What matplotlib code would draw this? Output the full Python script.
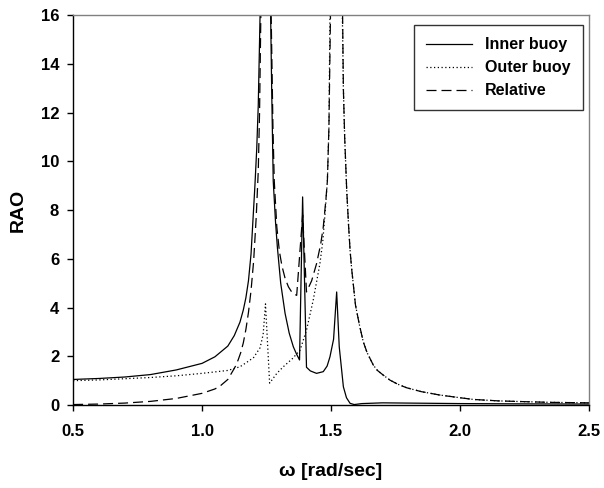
import numpy as np
import matplotlib
matplotlib.use("Agg")
import matplotlib.pyplot as plt

plt.rcParams['font.family'] = ['Liberation Sans', 'DejaVu Sans']
plt.rcParams['font.weight'] = 'bold'

# inner buoy (solid)
w_inner = [0.5, 0.6, 0.7, 0.8, 0.9, 1.0, 1.05, 1.1, 1.125, 1.147, 1.16, 1.17, 1.18,
           1.19, 1.205, 1.212, 1.218, 1.225, 1.245, 1.266, 1.27, 1.276, 1.285, 1.292,
           1.305, 1.322, 1.338, 1.354, 1.366, 1.378, 1.39, 1.405, 1.42, 1.444, 1.47,
           1.485, 1.496, 1.51, 1.522, 1.532, 1.548, 1.56, 1.574, 1.59, 1.62, 1.7,
           1.8, 2.0, 2.2, 2.5]
rao_inner = [1.05, 1.09, 1.15, 1.25, 1.44, 1.71, 1.98, 2.42, 2.85, 3.4, 3.9, 4.4, 5.1,
             6.2, 9.0, 10.5, 12.3, 16, 40, 16, 13.0, 9.2, 7.5, 6.49,
             5.0, 3.76, 2.95, 2.39, 2.1, 1.85, 8.54, 1.55, 1.4, 1.3, 1.37,
             1.6, 1.98, 2.7, 4.64, 2.39, 0.75, 0.3, 0.07, 0.02, 0.06, 0.09,
             0.08, 0.06, 0.05, 0.04]

# outer buoy (dotted)
w_outer = [0.5, 0.6, 0.7, 0.8, 0.9, 1.0, 1.05, 1.1, 1.147, 1.18, 1.2, 1.225, 1.237,
           1.246, 1.262, 1.29, 1.315, 1.35, 1.38, 1.405, 1.431, 1.457, 1.468, 1.477,
           1.486, 1.492, 1.496, 1.52, 1.544, 1.548, 1.553, 1.561, 1.568, 1.574, 1.58,
           1.586, 1.595, 1.61, 1.625, 1.64, 1.664, 1.68, 1.7, 1.729, 1.76, 1.793,
           1.85, 1.922, 2.0, 2.052, 2.15, 2.245, 2.35, 2.5]
rao_outer = [1.0, 1.03, 1.08, 1.13, 1.2, 1.3, 1.36, 1.42, 1.57, 1.8, 1.95, 2.35, 2.9,
             4.15, 0.9, 1.3, 1.57, 1.9, 2.25, 3.07, 4.3, 5.8, 6.7, 7.86,
             9.2, 11.4, 16, 40, 16, 13.0, 11.0, 8.8, 7.4, 6.35, 5.6,
             5.0, 4.1, 3.3, 2.6, 2.15, 1.64, 1.42, 1.25, 1.02, 0.85, 0.71,
             0.55, 0.41, 0.3, 0.23, 0.17, 0.14, 0.11, 0.09]

# relative (dashed)
w_rel = [0.5, 0.6, 0.7, 0.8, 0.9, 1.0, 1.05, 1.07, 1.1, 1.121, 1.13, 1.14, 1.15,
         1.16, 1.17, 1.18, 1.19, 1.2, 1.21, 1.218, 1.223, 1.228, 1.247, 1.268,
         1.275, 1.28, 1.29, 1.3, 1.31, 1.322, 1.335, 1.35, 1.367, 1.39, 1.405,
         1.425, 1.444, 1.46, 1.47, 1.48, 1.486, 1.492, 1.498, 1.52,
         1.545, 1.548, 1.553, 1.561, 1.568, 1.574, 1.58, 1.586, 1.595, 1.61,
         1.625, 1.64, 1.664, 1.68, 1.7, 1.729, 1.76, 1.793,
         1.85, 1.922, 2.0, 2.052, 2.15, 2.245, 2.35, 2.5]
rao_rel = [0.02, 0.04, 0.08, 0.15, 0.27, 0.48, 0.66, 0.78, 1.05, 1.43, 1.6, 1.85, 2.15,
           2.55, 3.1, 3.8, 4.7, 5.9, 7.7, 9.6, 12.0, 16, 40, 16,
           11.35, 9.2, 7.3, 6.3, 5.7, 5.2, 4.85, 4.6, 4.5, 7.8, 4.64,
           5.1, 5.8, 6.6, 7.3, 8.4, 9.2, 11.4, 16, 40,
           16, 13.0, 11.0, 8.8, 7.4, 6.35, 5.6, 5.0, 4.1, 3.3,
           2.6, 2.15, 1.64, 1.42, 1.25, 1.02, 0.85, 0.71,
           0.55, 0.41, 0.3, 0.23, 0.17, 0.14, 0.11, 0.09]

fig = plt.figure(figsize=(6.04, 4.88), dpi=100)
ax = fig.add_axes([0.121, 0.17, 0.854, 0.799])

ax.plot(w_inner, rao_inner, color='black', lw=0.9, ls='-', label='Inner buoy')
ax.plot(w_outer, rao_outer, color='black', lw=0.9, ls=(0, (1, 2)), label='Outer buoy')
ax.plot(w_rel, rao_rel, color='black', lw=0.9, ls=(0, (8, 4)), label='Relative')

ax.set_xlim(0.5, 2.5)
ax.set_ylim(0, 16)
ax.set_xticks([0.5, 1.0, 1.5, 2.0, 2.5])
ax.set_xticklabels(['0.5', '1.0', '1.5', '2.0', '2.5'])
ax.set_yticks(np.arange(0, 17, 2))

for s in ['top', 'right']:
    ax.spines[s].set_color('#808080')
for s in ['left', 'bottom']:
    ax.spines[s].set_color('black')
for s in ax.spines.values():
    s.set_linewidth(1.0)

ax.tick_params(axis='both', direction='out', length=4, width=1, labelsize=12)
ax.tick_params(axis='x', pad=10)
ax.tick_params(axis='y', pad=6)
ax.tick_params(top=False, right=False)

ax.set_xlabel('ω [rad/sec]', fontsize=14, fontweight='bold', labelpad=17)
ax.set_ylabel('RAO', fontsize=14, fontweight='bold', labelpad=10)

leg = ax.legend(loc='upper right', bbox_to_anchor=(0.988, 0.974), borderaxespad=0,
                fontsize=11.5, frameon=True, fancybox=False, edgecolor='black',
                handlelength=2.9, handletextpad=0.8, borderpad=0.75, labelspacing=0.5)
leg.get_frame().set_linewidth(1.0)
for t in leg.get_texts():
    t.set_fontweight('bold')

fig.savefig('out.png', dpi=100)
